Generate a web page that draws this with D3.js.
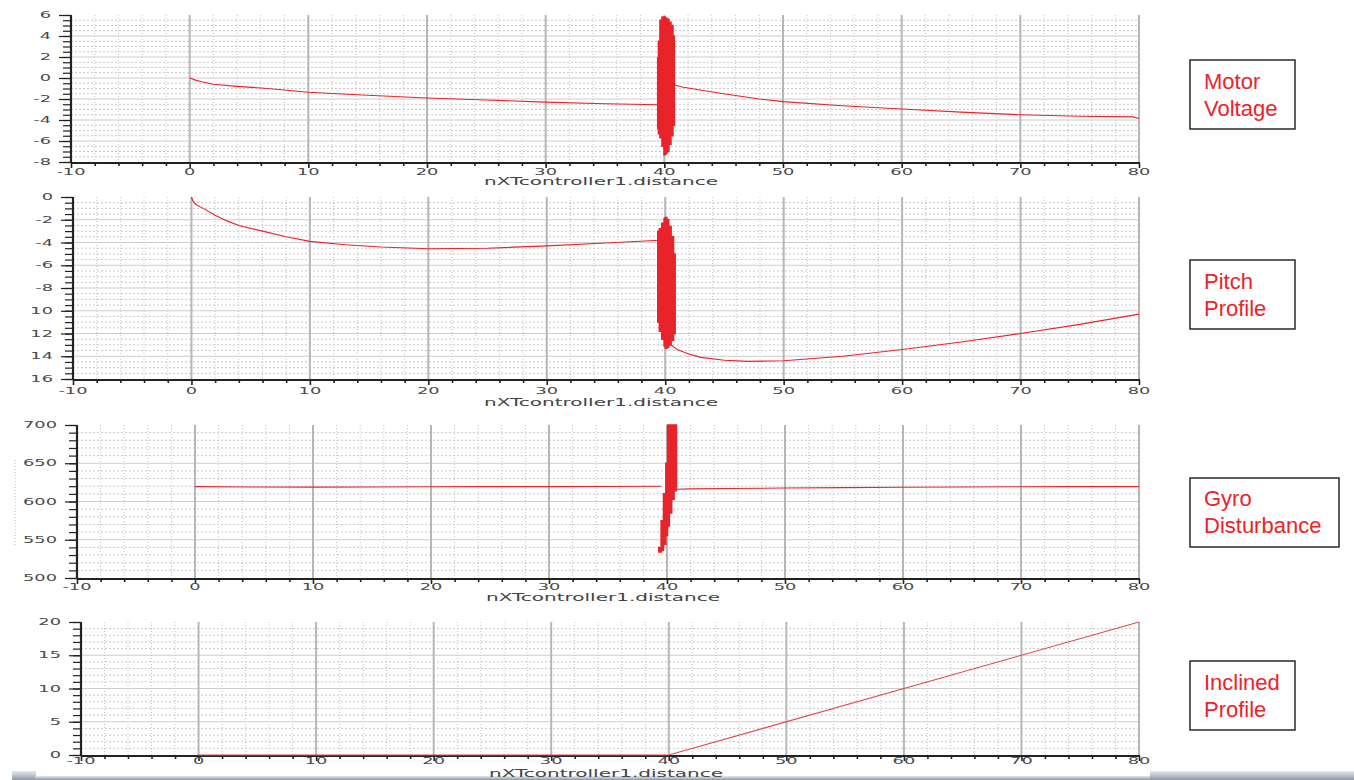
<!DOCTYPE html>
<html><head><meta charset="utf-8">
<script src="https://cdn.jsdelivr.net/npm/d3@7"></script>
<style>body{margin:0;background:#fff;overflow:hidden} svg{display:block}</style>
</head><body><svg id="c" width="1354" height="780"></svg>
<script>
// ---------------- DATA ----------------
const xTickValues = [-10, 0, 10, 20, 30, 40, 50, 60, 70, 80];
const xTickLabels = ["-10", "0", "10", "20", "30", "40", "50", "60", "70", "80"];
const xAxisTitle = "nXTcontroller1.distance";

// Motor Voltage
const voltageTicks = [6, 4, 2, 0, -2, -4, -6, -8];
const voltageTickLabels = ["6", "4", "2", "0", "-2", "-4", "-6", "-8"];
const voltageX1 = [0, 0.5, 1, 2, 4, 6, 8, 10, 15, 20, 25, 30, 35, 39.5];
const voltageY1 = [0, -0.2, -0.35, -0.6, -0.8, -0.95, -1.15, -1.35, -1.65, -1.9, -2.1, -2.3, -2.45, -2.55];
const voltageX2 = [40.8, 41.5, 43, 45, 48, 50, 55, 60, 65, 70, 75, 79.5, 80];
const voltageY2 = [-0.65, -0.85, -1.15, -1.5, -2.0, -2.25, -2.65, -2.95, -3.25, -3.5, -3.65, -3.7, -3.85];
const voltageOscX  = [39.44, 39.5, 39.63, 39.8, 39.97, 40.1, 40.22, 40.39, 40.56, 40.73, 40.84];
const voltageOscHi = [1.9, 3.5, 5.5, 5.8, 5.8, 5.7, 5.6, 5.3, 5.0, 4.0, -0.5];
const voltageOscLo = [-4.8, -5.3, -5.7, -6.5, -7.3, -7.2, -7.0, -6.3, -5.5, -4.5, -0.7];

// Pitch Profile
const pitchTicks = [0, -2, -4, -6, -8, -10, -12, -14, -16];
const pitchTickLabels = ["0", "-2", "-4", "-6", "-8", "10", "12", "14", "16"];
const pitchX1 = [0, 0.1, 0.3, 0.6, 1, 2, 3, 4, 6, 8, 10, 13, 16, 20, 25, 30, 35, 39.5];
const pitchY1 = [0, -0.3, -0.6, -0.8, -1.0, -1.6, -2.1, -2.5, -3.0, -3.5, -3.9, -4.2, -4.4, -4.55, -4.5, -4.3, -4.05, -3.8];
const pitchX2 = [40.5, 41, 42, 43, 45, 47, 50, 55, 60, 65, 70, 75, 80];
const pitchY2 = [-13.0, -13.4, -13.8, -14.1, -14.35, -14.45, -14.4, -14.0, -13.4, -12.75, -12.0, -11.2, -10.3];
const pitchOscX  = [39.37, 39.5, 39.7, 39.9, 40.0, 40.15, 40.3, 40.5, 40.7, 40.84];
const pitchOscHi = [-3.0, -2.8, -2.3, -1.9, -1.8, -2.0, -2.6, -3.5, -5.0, -8.0];
const pitchOscLo = [-11.0, -11.8, -12.5, -13.1, -13.3, -13.2, -13.0, -12.6, -12.0, -11.5];

// Gyro Disturbance
const gyroTicks = [700, 650, 600, 550, 500];
const gyroTickLabels = ["700", "650", "600", "550", "500"];
const gyroX1 = [0, 5, 10, 15, 20, 25, 30, 35, 39.5];
const gyroY1 = [619.5, 619, 618.8, 619, 619.3, 619.5, 619.5, 619.6, 620];
const gyroX2 = [40.75, 42, 45, 50, 55, 60, 65, 70, 75, 80];
const gyroY2 = [616, 616.5, 617, 617.6, 618.1, 618.6, 619, 619.3, 619.4, 619.5];
const gyroOscX  = [39.3, 39.5, 39.7, 39.9, 40.05, 40.2, 40.4, 40.6, 40.8];
const gyroOscHi = [540, 575, 610, 650, 700, 700, 700, 700, 700];
const gyroOscLo = [534, 536, 544, 556, 568, 585, 603, 614, 616];

// Inclined Profile
const inclineTicks = [20, 15, 10, 5, 0];
const inclineTickLabels = ["20", "15", "10", "5", "0"];
const inclineX = [0, 40, 80];
const inclineY = [0, 0, 20];

const panelLabels = [["Motor", "Voltage"], ["Pitch", "Profile"], ["Gyro", "Disturbance"], ["Inclined", "Profile"]];

// ---------------- LAYOUT ----------------
const svg = d3.select("#c");
const RED = "#e8232a";
const RIGHT = 1139;

const panels = [
  {left: 71, top: 15, bottom: 162, dom: [-8, 6], minor: 0.5, ticks: voltageTicks, labels: voltageTickLabels,
   lines: [[voltageX1, voltageY1], [voltageX2, voltageY2]], osc: [voltageOscX, voltageOscHi, voltageOscLo],
   tickY: 172, titleY: 181, titleX: 601},
  {left: 73, top: 197, bottom: 379, dom: [-16, 0], minor: 0.5, ticks: pitchTicks, labels: pitchTickLabels,
   lines: [[pitchX1, pitchY1], [pitchX2, pitchY2]], osc: [pitchOscX, pitchOscHi, pitchOscLo],
   tickY: 391, titleY: 402, titleX: 601},
  {left: 77, top: 425, bottom: 578, dom: [500, 700], minor: 10, ticks: gyroTicks, labels: gyroTickLabels,
   lines: [[gyroX1, gyroY1], [gyroX2, gyroY2]], osc: [gyroOscX, gyroOscHi, gyroOscLo],
   tickY: 587, titleY: 597, titleX: 603},
  {left: 81, top: 622, bottom: 755, dom: [0, 20], minor: 1, ticks: inclineTicks, labels: inclineTickLabels,
   lines: [[inclineX, inclineY]], osc: null,
   tickY: 761, titleY: 773, titleX: 606}
];

const boxes = [
  {x: 1190, y: 60, w: 105, h: 69, b1: 89, b2: 116},
  {x: 1190, y: 260, w: 105, h: 69, b1: 289, b2: 316},
  {x: 1190, y: 478, w: 149, h: 69, b1: 506, b2: 533},
  {x: 1190, y: 661, w: 105, h: 69, b1: 690, b2: 717}
];

// bottom bar (screen artefact)
const defs = svg.append("defs");
const gr = defs.append("linearGradient").attr("id", "bar").attr("x1", 0).attr("x2", 0).attr("y1", 0).attr("y2", 1);
gr.append("stop").attr("offset", "0%").attr("stop-color", "#e6eaee");
gr.append("stop").attr("offset", "100%").attr("stop-color", "#8d98a5");
svg.append("rect").attr("x", 12).attr("y", 771).attr("width", 24).attr("height", 9).attr("fill", "url(#bar)");
svg.append("rect").attr("x", 35).attr("y", 776).attr("width", 1319).attr("height", 4).attr("fill", "url(#bar)");
svg.append("rect").attr("x", 1150).attr("y", 771).attr("width", 204).attr("height", 9).attr("fill", "url(#bar)");

function scaledText(g, x, y, str, anchor, sx, size) {
  g.append("text")
    .attr("transform", `translate(${x},${y}) scale(${sx},1)`)
    .attr("text-anchor", anchor)
    .attr("dy", "0.36em")
    .attr("font-family", "DejaVu Sans, sans-serif")
    .attr("font-size", size)
    .attr("fill", "#4a4a4a")
    .text(str);
}

panels.forEach((p, pi) => {
  const g = svg.append("g");
  const x = d3.scaleLinear().domain([-10, 80]).range([p.left, RIGHT]);
  const y = d3.scaleLinear().domain(p.dom).range([p.bottom, p.top]);

  // minor vertical dotted grid (every 2)
  const minorX = d3.range(0, 46).map(i => -10 + i * 2).filter(v => v % 10 !== 0);
  g.selectAll(".mvx").data(minorX).join("line")
    .attr("x1", d => x(d)).attr("x2", d => x(d)).attr("y1", p.top).attr("y2", p.bottom)
    .attr("stroke", "#c4c4c4").attr("stroke-width", 1).attr("stroke-dasharray", "1,2");

  // minor horizontal dotted grid
  const nMinor = Math.round((p.dom[1] - p.dom[0]) / p.minor);
  const majorSet = new Set(p.ticks.map(v => Math.round(v * 100)));
  const minorY = d3.range(0, nMinor + 1).map(i => p.dom[0] + i * p.minor).filter(v => !majorSet.has(Math.round(v * 100)));
  g.selectAll(".mhy").data(minorY).join("line")
    .attr("x1", p.left).attr("x2", RIGHT).attr("y1", d => y(d)).attr("y2", d => y(d))
    .attr("stroke", "#c8c8c8").attr("stroke-width", 1).attr("stroke-dasharray", "2,2");

  // major horizontal grid
  const innerMaj = p.ticks.filter(v => v !== p.dom[0] && v !== p.dom[1]);
  g.selectAll(".Mhy").data(innerMaj).join("line")
    .attr("x1", p.left).attr("x2", RIGHT).attr("y1", d => y(d)).attr("y2", d => y(d))
    .attr("stroke", "#cdcdcd").attr("stroke-width", 1);

  // major vertical grid
  g.selectAll(".Mvx").data(xTickValues.filter(v => v !== -10)).join("line")
    .attr("x1", d => x(d)).attr("x2", d => x(d)).attr("y1", p.top).attr("y2", p.bottom)
    .attr("stroke", "#b6b6b6").attr("stroke-width", 2);

  // left axis
  const minorTicksY = d3.range(0, nMinor + 1).map(i => p.dom[0] + i * p.minor);
  const ax1 = g.append("g").attr("transform", `translate(${p.left},0)`)
    .call(d3.axisLeft(y).tickValues(minorTicksY).tickSize(8).tickFormat(""));
  const ax2 = g.append("g").attr("transform", `translate(${p.left},0)`)
    .call(d3.axisLeft(y).tickValues(p.ticks).tickSize(12).tickFormat(""));
  [ax1, ax2].forEach(a => {
    a.select(".domain").remove();
    a.selectAll("line").attr("stroke", "#222").attr("stroke-width", 1.2);
  });
  g.append("line").attr("x1", p.left).attr("x2", p.left).attr("y1", p.top).attr("y2", p.bottom + 1)
    .attr("stroke", "#222").attr("stroke-width", 2.2);

  // bottom axis
  const bx1 = g.append("g").attr("transform", `translate(0,${p.bottom + 1})`)
    .call(d3.axisBottom(x).tickValues(minorX).tickSize(3).tickFormat(""));
  const bx2 = g.append("g").attr("transform", `translate(0,${p.bottom + 1})`)
    .call(d3.axisBottom(x).tickValues(xTickValues).tickSize(5).tickFormat(""));
  [bx1, bx2].forEach(a => {
    a.select(".domain").remove();
    a.selectAll("line").attr("stroke", "#222").attr("stroke-width", 1.6);
  });
  g.append("line").attr("x1", p.left).attr("x2", RIGHT + 1).attr("y1", p.bottom + 1).attr("y2", p.bottom + 1)
    .attr("stroke", "#222").attr("stroke-width", 2);

  // oscillation envelope
  if (p.osc) {
    const [ox, oh, ol] = p.osc;
    const pts = ox.map((v, i) => ({x: v, hi: oh[i], lo: ol[i]}));
    const area = d3.area().x(d => x(d.x)).y0(d => y(d.lo)).y1(d => y(d.hi)).curve(d3.curveStepAfter);
    g.append("path").attr("d", area(pts)).attr("fill", RED).attr("stroke", RED).attr("stroke-width", 1.5);
  }

  // series lines
  const line = d3.line().x(d => x(d[0])).y(d => y(d[1]));
  p.lines.forEach(([xs, ys]) => {
    g.append("path").attr("d", line(xs.map((v, i) => [v, ys[i]])))
      .attr("fill", "none").attr("stroke", pi === 3 ? "#e0474c" : RED).attr("stroke-width", 1.1);
  });

  // tick labels
  p.ticks.forEach((v, i) => scaledText(g, p.left - 20, y(v), p.labels[i], "end", 2.1, 8.5));
  xTickValues.forEach((v, i) => scaledText(g, x(v), p.tickY, xTickLabels[i], "middle", 2.1, 8.5));

  // axis title
  g.append("text").attr("x", p.titleX - 117).attr("y", p.titleY).attr("dy", "0.36em")
    .attr("textLength", 234).attr("lengthAdjust", "spacingAndGlyphs")
    .attr("font-family", "DejaVu Sans, sans-serif").attr("font-size", 10.5).attr("fill", "#444")
    .text(xAxisTitle);
});

// clipped axis title remnant on gyro panel
svg.append("line").attr("x1", 15).attr("x2", 15).attr("y1", 460).attr("y2", 545)
  .attr("stroke", "#bbb").attr("stroke-width", 1).attr("stroke-dasharray", "1,2");

// label boxes
boxes.forEach((b, i) => {
  svg.append("rect").attr("x", b.x).attr("y", b.y).attr("width", b.w).attr("height", b.h)
    .attr("fill", "#fff").attr("stroke", "#2a2a2a").attr("stroke-width", 1.5);
  [b.b1, b.b2].forEach((yy, j) => {
    svg.append("text").attr("x", b.x + 14).attr("y", yy)
      .attr("font-family", "Liberation Sans, Arial, sans-serif").attr("font-size", 22)
      .attr("fill", "#ee2229").text(panelLabels[i][j]);
  });
});
</script>
</body></html>
